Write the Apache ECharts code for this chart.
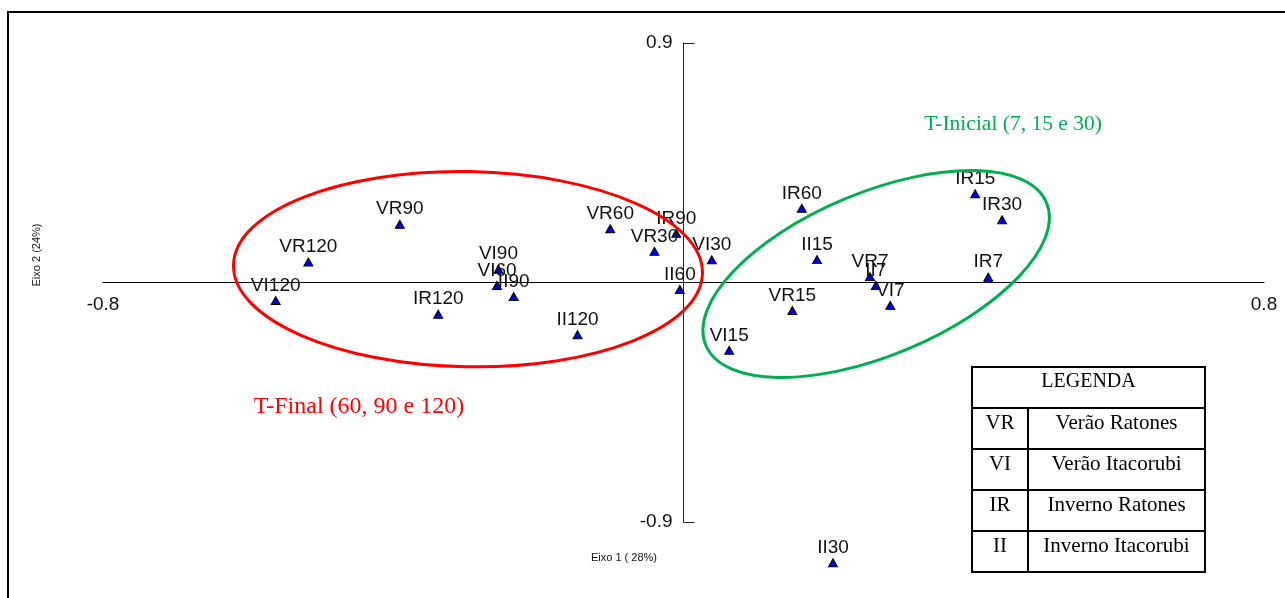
<!DOCTYPE html>
<html>
<head>
<meta charset="utf-8">
<script src="https://cdn.jsdelivr.net/npm/echarts@6/dist/echarts.min.js"></script>
<style>
html,body{margin:0;padding:0;background:#fff;}
#c{width:1285px;height:598px;}
</style>
</head>
<body>
<div id="c"></div>
<script>
// ---- data ----
const pointNames = ['VR7','VR15','VR30','VR60','VR90','VR120',
                    'VI7','VI15','VI30','VI60','VI90','VI120',
                    'IR7','IR15','IR30','IR60','IR90','IR120',
                    'II7','II15','II30','II60','II90','II120'];
const axis1Values = [0.257, 0.150, -0.040, -0.101, -0.391, -0.517,
                     0.285, 0.063, 0.039, -0.257, -0.255, -0.562,
                     0.420, 0.402, 0.439, 0.163, -0.010, -0.338,
                     0.265, 0.184, 0.206, -0.005, -0.234, -0.146];
const axis2Values = [0.022, -0.105, 0.117, 0.202, 0.219, 0.077,
                     -0.086, -0.255, 0.085, -0.011, 0.050, -0.068,
                     0.020, 0.333, 0.236, 0.279, 0.185, -0.119,
                     -0.011, 0.086, -1.053, -0.026, -0.053, -0.196];
const xTickLabels = ['-0.8', '0.8'];
const yTickLabels = ['-0.9', '0.9'];
const xAxisTitle = 'Eixo 1 ( 28%)';
const yAxisTitle = 'Eixo 2 (24%)';
const groupLabels = ['T-Final (60, 90 e 120)', 'T-Inicial (7, 15 e 30)'];
// group ellipses (data units: center x/y, semi-axes in axis-1 units, tilt degrees)
const groupCenterX = [-0.297, 0.2655];
const groupCenterY = [0.050, 0.032];
const groupSemiMajor = [0.3232, 0.2545];
const groupSemiMinor = [0.1345, 0.1121];
const groupTilt = [-1, 22.7];
const legendTitle = 'LEGENDA';
const legendCodes = ['VR', 'VI', 'IR', 'II'];
const legendNames = ['Verão Ratones', 'Verão Itacorubi', 'Inverno Ratones', 'Inverno Itacorubi'];

const SANS = '"Liberation Sans", Arial, sans-serif';
const SERIF = '"Liberation Serif", "Times New Roman", serif';

const chart = echarts.init(document.getElementById('c'), null, {renderer: 'canvas'});

const points = pointNames.map((n, i) => ({name: n, value: [axis1Values[i], axis2Values[i]]}));

function fmt(v) {
  return (Math.round(v * 10) / 10).toFixed(1);
}

const GRID = {left: 103, right: 21, top: 43, bottom: 76};
const W = 1285, H = 598;
// place axes through the origin (axes cross at 0,0)
const gridW = W - GRID.left - GRID.right;
const gridH = H - GRID.top - GRID.bottom;
const yOffset = -(gridW * 0.8 / 1.6);   // y axis moved to x = 0
const xOffset = -(gridH * 0.9 / 1.8);   // x axis moved to y = 0

chart.setOption({
  animation: false,
  backgroundColor: '#fff',
  grid: Object.assign({containLabel: false}, GRID),
  xAxis: {
    type: 'value', min: -0.8, max: 0.8, interval: 0.8,
    position: 'bottom', offset: xOffset,
    splitLine: {show: false},
    axisLine: {show: true, onZero: false, lineStyle: {color: '#000', width: 1}},
    axisTick: {show: false},
    axisLabel: {
      margin: 13, fontSize: 19, fontFamily: SANS, color: '#111',
      formatter: v => xTickLabels.includes(fmt(v)) ? fmt(v) : ''
    }
  },
  yAxis: {
    type: 'value', min: -0.9, max: 0.9, interval: 0.9,
    position: 'left', offset: yOffset,
    splitLine: {show: false},
    axisLine: {show: true, onZero: false, lineStyle: {color: '#222', width: 1}},
    axisTick: {show: true, inside: true, length: 11, lineStyle: {color: '#222', width: 1}},
    axisLabel: {
      margin: 11, fontSize: 19, fontFamily: SANS, color: '#111',
      formatter: v => yTickLabels.includes(fmt(v)) ? fmt(v) : ''
    }
  },
  series: [{
    type: 'scatter',
    clip: false,
    symbol: 'triangle',
    symbolSize: [9, 8],
    itemStyle: {color: '#0000ee', borderColor: '#000', borderWidth: 1, opacity: 1},
    label: {
      show: true, position: 'top', distance: 1,
      formatter: p => p.name,
      fontSize: 19, fontFamily: SANS, color: '#111'
    },
    emphasis: {disabled: true},
    data: points
  }]
});

// ---- annotations (ellipses, group labels, legend table, frame) ----
const g = [];
g.push({type: 'rect', shape: {x: 8, y: 12, width: 1300, height: 620},
        style: {fill: 'none', stroke: '#000', lineWidth: 2}, silent: true});

const colors = ['#ff0000', '#00b050'];
const origin = chart.convertToPixel({gridIndex: 0}, [0, 0]);
groupCenterX.forEach((cx, i) => {
  const c = chart.convertToPixel({gridIndex: 0}, [cx, groupCenterY[i]]);
  const rx = chart.convertToPixel({gridIndex: 0}, [groupSemiMajor[i], 0])[0] - origin[0];
  const ry = chart.convertToPixel({gridIndex: 0}, [groupSemiMinor[i], 0])[0] - origin[0];
  g.push({type: 'ellipse', x: c[0], y: c[1], rotation: groupTilt[i] * Math.PI / 180,
          shape: {cx: 0, cy: 0, rx: rx, ry: ry},
          style: {fill: 'none', stroke: colors[i], lineWidth: 3}, silent: true, z: 5});
});

g.push({type: 'text', x: 359, y: 407, style: {text: groupLabels[0], fontSize: 24, fontFamily: SERIF,
        fill: '#ff0000', textAlign: 'center', textVerticalAlign: 'middle'}});
g.push({type: 'text', x: 1013, y: 124, style: {text: groupLabels[1], fontSize: 21.5, fontFamily: SERIF,
        fill: '#00b050', textAlign: 'center', textVerticalAlign: 'middle'}});

g.push({type: 'text', x: 624, y: 558, style: {text: xAxisTitle, fontSize: 11, fontFamily: SANS,
        fill: '#111', textAlign: 'center', textVerticalAlign: 'middle'}});
g.push({type: 'text', x: 37, y: 255, rotation: Math.PI / 2, style: {text: yAxisTitle, fontSize: 11, fontFamily: SANS,
        fill: '#111', textAlign: 'center', textVerticalAlign: 'middle'}});

const tL = 972, tR = 1205, tC = 1028;
const rows = [367, 408, 449, 490, 531, 572];
g.push({type: 'rect', shape: {x: tL, y: rows[0], width: tR - tL, height: rows[5] - rows[0]},
        style: {fill: '#fff', stroke: '#000', lineWidth: 2}, z: 10});
for (let r = 1; r < 5; r++) {
  g.push({type: 'line', shape: {x1: tL, y1: rows[r], x2: tR, y2: rows[r]},
          style: {stroke: '#000', lineWidth: 2}, z: 11});
}
g.push({type: 'line', shape: {x1: tC, y1: rows[1], x2: tC, y2: rows[5]},
        style: {stroke: '#000', lineWidth: 2}, z: 11});
g.push({type: 'text', x: (tL + tR) / 2, y: rows[0] + 15, z: 12,
        style: {text: legendTitle, fontSize: 20, fontFamily: SERIF, fill: '#000',
                textAlign: 'center', textVerticalAlign: 'middle'}});
legendCodes.forEach((code, i) => {
  g.push({type: 'text', x: (tL + tC) / 2, y: rows[i + 1] + 15, z: 12,
          style: {text: code, fontSize: 21, fontFamily: SERIF, fill: '#000',
                  textAlign: 'center', textVerticalAlign: 'middle'}});
  g.push({type: 'text', x: (tC + tR) / 2, y: rows[i + 1] + 15, z: 12,
          style: {text: legendNames[i], fontSize: 21, fontFamily: SERIF, fill: '#000',
                  textAlign: 'center', textVerticalAlign: 'middle'}});
});

chart.setOption({graphic: g});
</script>
</body>
</html>
